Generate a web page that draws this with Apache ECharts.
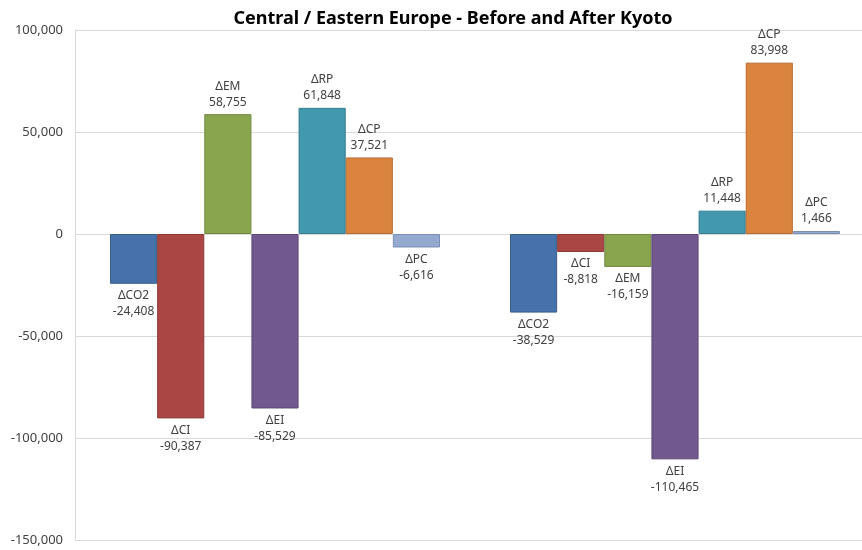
<!DOCTYPE html>
<html>
<head>
<meta charset="utf-8">
<script src="https://cdn.jsdelivr.net/npm/echarts@6/dist/echarts.min.js"></script>
<style>
  html, body { margin: 0; padding: 0; background: #fff; }
  #chart { width: 862px; height: 550px; }
</style>
</head>
<body>
<div id="chart"></div>
<script>
// Periods compared
const periods = ['Before Kyoto', 'After Kyoto'];

// Decomposition components (one bar series each)
const componentNames = ['ΔCO2', 'ΔCI', 'ΔEM', 'ΔEI', 'ΔRP', 'ΔCP', 'ΔPC'];

// Values per component: [before, after]
const dCO2 = [-24408, -38529];
const dCI  = [-90387, -8818];
const dEM  = [58755, -16159];
const dEI  = [-85529, -110465];
const dRP  = [61848, 11448];
const dCP  = [37521, 83998];
const dPC  = [-6616, 1466];

// Y axis ticks
const yTicks = [-150000, -100000, -50000, 0, 50000, 100000];

const componentValues = [dCO2, dCI, dEM, dEI, dRP, dCP, dPC];
const fills   = ['#4671AA', '#AA4643', '#89A54E', '#71588F', '#4198AF', '#DB843D', '#93A9CF'];
const borders = ['#385D8A', '#8C3836', '#71893F', '#5C4776', '#357D8F', '#B66D31', '#7A8EB3'];

const fmt = v => v.toLocaleString('en-US');

const series = componentNames.map((name, i) => ({
  name: name,
  type: 'bar',
  barGap: '0%',
  barCategoryGap: '17.5%',
  itemStyle: { color: fills[i], borderColor: borders[i], borderWidth: 1 },
  data: componentValues[i].map(v => ({
    value: v,
    label: { position: v >= 0 ? 'top' : 'bottom' }
  })),
  label: {
    show: true,
    distance: 4,
    color: '#404040',
    fontFamily: 'Noto Sans',
    fontSize: 12,
    lineHeight: 16,
    align: 'center',
    formatter: p => p.seriesName + '\n' + fmt(p.value)
  }
}));

const chart = echarts.init(document.getElementById('chart'));
chart.setOption({
  animation: false,
  backgroundColor: '#ffffff',
  title: {
    text: 'Central / Eastern Europe - Before and After Kyoto',
    left: 448,
    top: 5,
    textAlign: 'center',
    textStyle: { fontFamily: 'Noto Sans', fontWeight: 'bold', fontSize: 18, color: '#000' }
  },
  grid: { left: 75, top: 30, width: 800, height: 510, outerBoundsMode: 'none' },
  xAxis: {
    type: 'category',
    data: periods,
    axisLine: { show: false },
    axisTick: { show: false },
    axisLabel: { show: false }
  },
  yAxis: {
    type: 'value',
    min: yTicks[0],
    max: yTicks[yTicks.length - 1],
    interval: 50000,
    axisLine: { show: true, lineStyle: { color: '#d9d9d9' } },
    axisTick: { show: false },
    splitLine: { lineStyle: { color: '#d9d9d9' } },
    axisLabel: {
      margin: 12,
      color: '#404040',
      fontFamily: 'Noto Sans',
      fontSize: 13,
      formatter: v => fmt(v)
    }
  },
  series: series
});
</script>
</body>
</html>
